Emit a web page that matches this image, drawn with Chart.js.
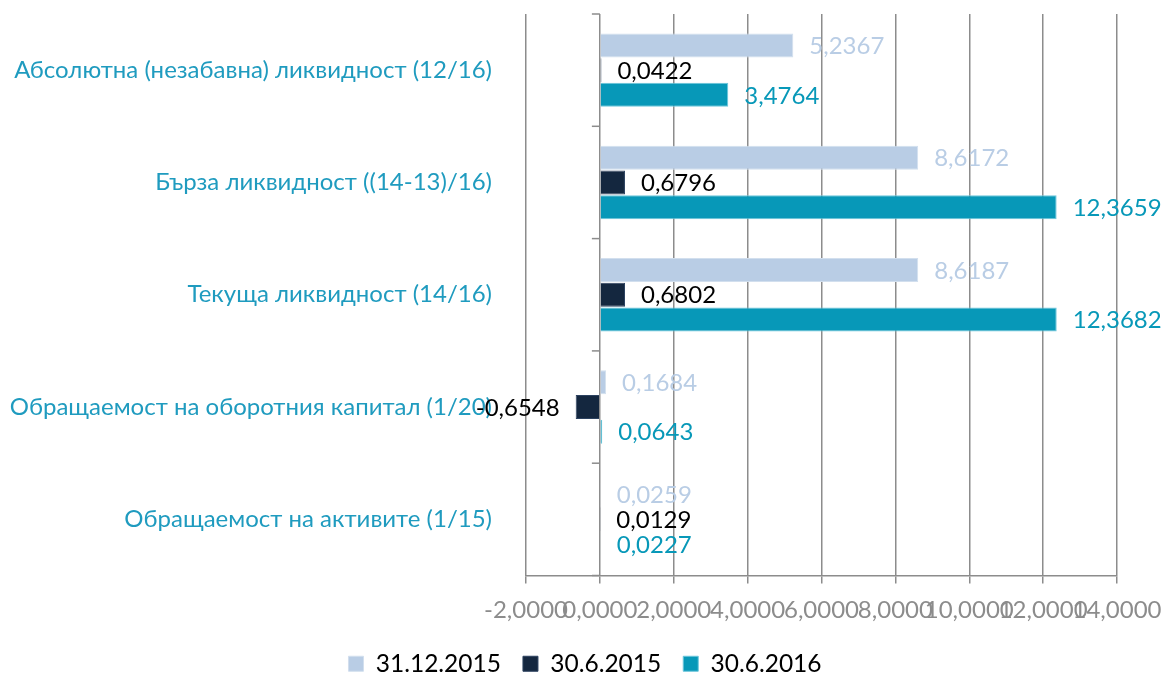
<!DOCTYPE html>
<html>
<head>
<meta charset="utf-8">
<script src="https://cdn.jsdelivr.net/npm/chart.js@4"></script>
<style>
  html, body { margin: 0; padding: 0; background: #fff; }
  #wrap { width: 1170px; height: 675px; }
</style>
</head>
<body>
<div id="wrap"><canvas id="chart1"></canvas></div>
<script>
// данни
const categories = [
  'Абсолютна (незабавна) ликвидност (12/16)',
  'Бърза ликвидност ((14-13)/16)',
  'Текуща ликвидност (14/16)',
  'Обращаемост на оборотния капитал (1/20)',
  'Обращаемост на активите (1/15)'
];
const seriesNames = ['31.12.2015', '30.6.2015', '30.6.2016'];
const dec2015 = [5.2367, 8.6172, 8.6187, 0.1684, 0.0259];
const jun2015 = [0.0422, 0.6796, 0.6802, -0.6548, 0.0129];
const jun2016 = [3.4764, 12.3659, 12.3682, 0.0643, 0.0227];
const xTicks = [-2, 0, 2, 4, 6, 8, 10, 12, 14];

const fmt = v => v.toFixed(4).replace('.', ',');
const FONT = 'Lato';

// етикети на стойностите
const valueLabels = {
  id: 'valueLabels',
  afterDatasetsDraw(chart) {
    const ctx = chart.ctx;
    ctx.save();
    ctx.font = '24px ' + FONT;
    ctx.textBaseline = 'middle';
    chart.data.datasets.forEach((ds, i) => {
      const meta = chart.getDatasetMeta(i);
      meta.data.forEach((bar, j) => {
        const v = ds.data[j];
        ctx.fillStyle = ds.labelColor;
        if (v >= 0) {
          ctx.textAlign = 'left';
          ctx.fillText(fmt(v), bar.x + 16, bar.y + 1);
        } else {
          ctx.textAlign = 'right';
          ctx.fillText(fmt(v), bar.x - 16, bar.y + 1);
        }
      });
    });
    ctx.restore();
  }
};

// малки чертички по оста при нула
const zeroAxisTicks = {
  id: 'zeroAxisTicks',
  afterDraw(chart) {
    const ctx = chart.ctx;
    const x0 = chart.scales.x.getPixelForValue(0);
    const ys = chart.scales.y;
    ctx.save();
    ctx.strokeStyle = '#8c8c8c';
    ctx.lineWidth = 1.5;
    for (let i = 0; i <= categories.length; i++) {
      const y = ys.getPixelForValue(i - 0.5);
      ctx.beginPath();
      ctx.moveTo(x0 - 8, y);
      ctx.lineTo(x0, y);
      ctx.stroke();
    }
    ctx.restore();
  }
};

const ctx = document.getElementById('chart1').getContext('2d');
new Chart(ctx, {
  type: 'bar',
  data: {
    labels: categories,
    datasets: [
      {
        label: seriesNames[0],
        data: dec2015,
        backgroundColor: '#b9cde5',
        borderColor: '#d2dfee',
        borderWidth: 1,
        labelColor: '#b9cde5'
      },
      {
        label: seriesNames[1],
        data: jun2015,
        backgroundColor: '#14273f',
        borderColor: '#2c4260',
        borderWidth: 1,
        labelColor: '#000000'
      },
      {
        label: seriesNames[2],
        data: jun2016,
        backgroundColor: '#0798b8',
        borderColor: '#6cc6dc',
        borderWidth: 1,
        labelColor: '#0798b8'
      }
    ]
  },
  options: {
    indexAxis: 'y',
    responsive: true,
    maintainAspectRatio: false,
    animation: false,
    layout: { padding: { top: 14, left: 0, right: 0, bottom: -11 } },
    datasets: {
      bar: { categoryPercentage: 0.66, barPercentage: 0.97 }
    },
    scales: {
      x: {
        min: -2,
        max: 14,
        afterBuildTicks: s => { s.ticks = xTicks.map(v => ({ value: v })); },
        afterFit: s => { s.paddingRight = 53; s.paddingLeft = 0; s.height = 54; },
        grid: { color: '#8c8c8c', lineWidth: 1.5, tickLength: 8 },
        border: { color: '#8c8c8c', width: 1.5 },
        ticks: {
          color: '#8c8c8c',
          font: { family: FONT, size: 24 },
          padding: 12,
          maxRotation: 0,
          autoSkip: false,
          callback: v => fmt(v)
        }
      },
      y: {
        afterFit: s => { s.width = 526; s.paddingTop = 0; s.paddingBottom = 0; },
        grid: { display: false },
        border: { display: false },
        ticks: {
          color: '#1f9bbf',
          font: { family: FONT, size: 24 },
          padding: 26
        }
      }
    },
    plugins: {
      legend: {
        position: 'bottom',
        labels: {
          color: '#000',
          font: { family: FONT, size: 24.5 },
          boxWidth: 15,
          boxHeight: 15,
          padding: 22
        }
      },
      tooltip: { enabled: false }
    }
  },
  plugins: [valueLabels, zeroAxisTicks]
});
</script>
</body>
</html>
